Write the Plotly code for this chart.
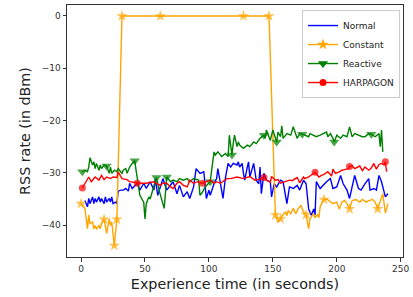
import plotly.graph_objects as go

# ---------------- data ----------------
normal_t = [3, 5, 6, 7, 9, 10, 11, 12, 14, 15, 16, 18, 19, 20, 22, 23, 24, 25, 27, 28,
            29, 31, 33, 35, 37, 38, 40, 41, 44, 46, 49, 51, 54, 57, 58, 60, 62, 64, 67, 70,
            72, 75, 77, 80, 83, 85, 88, 90, 93, 96, 97, 98, 100, 101, 104, 106, 107, 109, 111, 113,
            115, 117, 119, 122, 123, 124, 126, 127, 128, 130, 131, 132, 134, 135, 137, 139, 140, 141, 143, 145,
            148, 149, 151, 153, 156, 158, 161, 163, 166, 169, 171, 174, 176, 178, 180, 182, 183, 184, 187, 189,
            192, 195, 197, 200, 203, 205, 208, 210, 212, 214, 217, 219, 222, 225, 226, 229, 231, 233, 235, 238, 240]
normal_rss = [-35.3, -36.5, -34.9, -35.9, -34.6, -35.9, -34.9, -35.6, -34.6, -35.6, -34.9, -35.9, -34.6, -35.6, -34.9, -35.6, -34.6, -35.9, -35.6, -35.9,
              -33.5, -33.3, -33.3, -33.0, -33.5, -32.0, -33.0, -32.7, -32.0, -33.3, -32.0, -33.0, -31.7, -33.3, -31.1, -34.3, -32.7, -31.1, -33.3, -32.4,
              -31.7, -34.0, -32.4, -34.6, -33.6, -34.9, -32.7, -29.2, -30.1, -29.8, -32.1, -34.9, -33.3, -34.3, -32.1, -31.1, -29.2, -32.1, -34.9, -30.8,
              -28.2, -28.9, -28.2, -28.5, -27.9, -28.9, -28.2, -30.1, -31.4, -28.9, -27.9, -30.8, -28.9, -28.2, -31.4, -32.1, -28.9, -34.0, -30.1, -31.4,
              -31.7, -34.6, -32.1, -32.7, -31.4, -31.7, -35.9, -32.7, -33.0, -32.4, -33.3, -31.4, -32.1, -36.9, -38.1, -36.9, -38.1, -31.7, -33.0, -32.4,
              -31.7, -31.1, -33.0, -32.7, -30.5, -32.1, -33.3, -34.9, -32.4, -30.5, -33.0, -33.3, -32.1, -31.1, -33.3, -33.0, -33.3, -30.5, -31.7, -34.6, -34.0]

constant_t = [0, 3, 5, 6, 7, 9, 10, 11, 12, 14, 15, 16, 18, 20, 22, 23, 24, 26, 28, 32,
              62, 127, 147, 152, 154, 156, 158, 160, 161, 162, 164, 166, 168, 170, 172, 174, 176, 178, 179, 182,
              183, 185, 186, 187, 190, 192, 195, 197, 200, 202, 204, 206, 208, 210, 212, 215, 218, 220, 223, 225,
              228, 230, 232, 234, 236, 238, 240]
constant_rss = [-35.9, -36.8, -40.7, -38.1, -39.7, -39.4, -40.7, -40.1, -40.7, -40.1, -40.7, -39.7, -38.9, -41.6, -38.8, -40.1, -39.4, -43.9, -38.9, 0.0,
                0.0, 0.0, 0.0, -38.1, -39.4, -38.8, -38.0, -37.5, -38.2, -37.2, -37.8, -36.8, -37.8, -36.8, -36.2, -37.5, -38.0, -40.7, -38.8, -37.8,
                -38.6, -38.0, -38.6, -36.5, -35.1, -35.0, -35.6, -35.9, -35.6, -36.9, -35.6, -35.3, -35.9, -36.9, -35.3, -35.1, -35.6, -35.1, -35.6, -35.3,
                -35.1, -35.6, -36.9, -35.3, -34.0, -37.7, -35.9]
constant_marks = [0, 18, 26, 28, 32, 62, 127, 147, 152, 156, 176, 190, 210, 232]

reactive_t = [1, 3, 5, 6, 7, 9, 10, 11, 12, 14, 15, 16, 18, 20, 22, 23, 24, 26, 28, 29,
              31, 32, 33, 35, 36, 37, 38, 40, 42, 43, 44, 45, 46, 49, 50, 51, 53, 54, 56, 59,
              61, 63, 65, 67, 70, 72, 75, 77, 80, 83, 85, 88, 92, 93, 95, 97, 101, 104, 105, 107,
              110, 113, 115, 116, 118, 119, 120, 122, 123, 124, 127, 130, 132, 135, 137, 140, 143, 144, 145, 148,
              149, 150, 153, 154, 156, 157, 158, 161, 164, 166, 169, 171, 173, 175, 178, 179, 182, 184, 187, 190,
              192, 193, 195, 197, 198, 200, 203, 205, 208, 210, 212, 214, 217, 220, 222, 225, 227, 230, 233, 234,
              235, 236]
reactive_rss = [-29.8, -29.5, -29.8, -28.9, -27.1, -28.5, -27.9, -29.2, -28.2, -29.5, -28.5, -29.2, -28.5, -28.7, -30.1, -28.9, -30.1, -29.5, -29.8, -29.2,
                -29.8, -30.1, -29.5, -29.2, -30.1, -29.5, -28.9, -28.2, -27.7, -29.5, -31.1, -33.3, -34.3, -35.6, -38.8, -35.9, -34.6, -35.0, -33.5, -30.9,
                -33.3, -35.2, -36.8, -30.8, -31.7, -31.4, -31.7, -31.1, -31.4, -31.1, -31.7, -31.1, -31.4, -34.3, -33.7, -32.7, -31.7, -26.0, -26.6, -26.0,
                -26.9, -26.3, -26.9, -22.8, -26.6, -24.4, -22.8, -25.0, -24.1, -24.7, -25.3, -24.7, -25.0, -24.1, -24.4, -23.4, -22.8, -23.4, -21.8, -23.8,
                -22.5, -21.8, -24.1, -22.2, -23.1, -21.0, -23.4, -22.5, -22.8, -21.2, -23.4, -22.5, -22.6, -22.8, -23.1, -22.5, -22.8, -23.1, -22.8, -22.5,
                -22.2, -23.1, -22.5, -23.4, -24.1, -22.8, -23.4, -22.8, -23.1, -21.2, -23.1, -22.5, -22.8, -23.1, -23.1, -22.5, -22.6, -23.1, -22.5, -25.0,
                -21.8, -26.0]
reactive_marks = [1, 20, 42, 59, 67, 101, 118, 143, 153, 173, 198, 227]

harpagon_t = [1, 3, 6, 8, 11, 14, 16, 18, 20, 23, 25, 28, 29, 32, 36, 38, 44, 46, 51, 57,
              59, 62, 64, 67, 70, 72, 75, 77, 80, 83, 85, 88, 91, 95, 98, 101, 104, 106, 109, 111,
              114, 117, 122, 127, 132, 136, 140, 143, 145, 148, 149, 152, 154, 156, 158, 161, 163, 165, 167, 169,
              171, 174, 175, 178, 183, 186, 188, 190, 193, 196, 197, 199, 202, 204, 206, 209, 210, 212, 214, 216,
              218, 220, 222, 225, 227, 229, 231, 233, 235, 237, 238, 239]
harpagon_rss = [-32.9, -32.0, -30.8, -31.7, -30.8, -31.4, -30.5, -31.3, -30.8, -31.1, -30.8, -30.9, -29.8, -31.1, -31.3, -31.7, -32.0, -32.0, -32.0, -31.7,
                -32.0, -32.4, -32.0, -32.0, -32.7, -33.0, -32.0, -31.7, -32.4, -32.7, -31.4, -32.0, -31.7, -32.0, -31.7, -31.4, -32.0, -31.7, -32.0, -31.7,
                -31.1, -31.1, -30.8, -31.1, -30.7, -31.4, -31.2, -30.9, -31.4, -31.8, -30.7, -31.4, -31.3, -32.0, -31.8, -31.5, -31.4, -31.5, -31.2, -30.9,
                -31.9, -30.8, -31.1, -30.8, -29.9, -30.8, -30.5, -30.3, -29.8, -30.6, -29.3, -30.1, -29.8, -29.5, -29.4, -29.2, -28.8, -28.6, -29.2, -29.0,
                -28.7, -29.6, -28.9, -29.5, -29.1, -28.2, -29.3, -28.4, -28.2, -28.5, -27.9, -29.8]
harpagon_marks = [1, 44, 95, 143, 183, 210, 238]

x_ticks = [0, 50, 100, 150, 200, 250]
y_ticks = [0, -10, -20, -30, -40]

# ---------------- figure ----------------
FONT = "DejaVu Sans"
fig = go.Figure()

series = [
    ("Normal", normal_t, normal_rss, [], "blue", "circle", 0),
    ("Constant", constant_t, constant_rss, constant_marks, "orange", "star", 8.5),
    ("Reactive", reactive_t, reactive_rss, reactive_marks, "green", "triangle-down", 9),
    ("HARPAGON", harpagon_t, harpagon_rss, harpagon_marks, "red", "circle", 7),
]

for name, t, v, marks, color, symbol, msize in series:
    sizes = [msize if ti in marks else 0 for ti in t]
    fig.add_trace(go.Scatter(
        x=t, y=v, name=name, mode="lines+markers" if marks else "lines",
        line=dict(color=color, width=1.4),
        marker=dict(color=color, symbol=symbol, size=sizes, line=dict(width=0)),
        showlegend=False, hoverinfo="skip"))

# legend entries (same styles, no points)
for name, t, v, marks, color, symbol, msize in series:
    fig.add_trace(go.Scatter(
        x=[None], y=[None], name=name, mode="lines+markers" if marks else "lines",
        line=dict(color=color, width=1.4),
        marker=dict(color=color, symbol=symbol, size=msize if msize else 6),
        showlegend=True))

axis_common = dict(
    showline=True, linecolor="#333333", linewidth=1, mirror=True,
    ticks="outside", ticklen=3.5, tickwidth=1, tickcolor="#333333",
    showgrid=False, zeroline=False, automargin=False,
    tickfont=dict(family=FONT, size=9, color="#333333"),
)

fig.update_layout(
    width=413, height=297,
    margin=dict(l=67, r=10, t=5, b=40),
    plot_bgcolor="white", paper_bgcolor="white",
    font=dict(family=FONT, color="#222222"),
    xaxis=dict(range=[-11, 251.8], tickvals=x_ticks,
               title=dict(text="Experience time (in seconds)", font=dict(family=FONT, size=14.3, color="#222222"), standoff=5),
               **axis_common),
    yaxis=dict(range=[-46.1, 2.1], tickvals=y_ticks,
               title=dict(text="RSS rate (in dBm)", font=dict(family=FONT, size=14.3, color="#222222"), standoff=7),
               **axis_common),
    legend=dict(x=0.991, xanchor="right", y=0.98, yanchor="top",
                bgcolor="rgba(255,255,255,0.8)", bordercolor="#cccccc", borderwidth=1,
                font=dict(family=FONT, size=9, color="#222222"),
                itemwidth=30, tracegroupgap=0),
    showlegend=True,
)

fig.write_html("out.html", config={"displayModeBar": False},
               post_script="document.body.style.margin='0';")
